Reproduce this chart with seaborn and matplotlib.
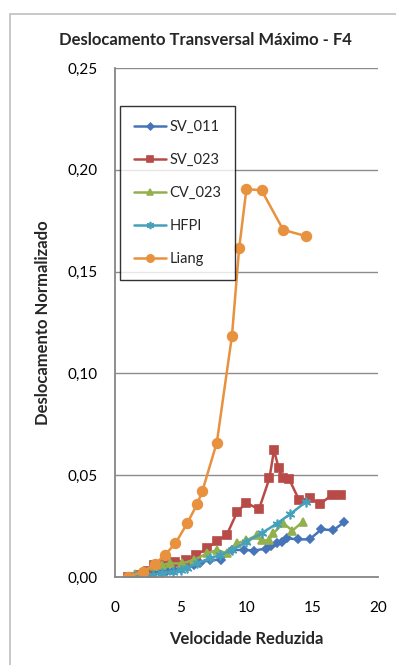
import pandas as pd
import matplotlib
matplotlib.use("Agg")
import matplotlib.pyplot as plt
import seaborn as sns
from matplotlib.ticker import FuncFormatter, MultipleLocator

# Data
series_names = ["SV_011", "SV_023", "CV_023", "HFPI", "Liang"]

sv011_x = [1.0, 1.5, 2.0, 2.5, 3.0, 3.5, 4.0, 4.5, 5.0, 5.5, 6.0, 6.5, 7.2, 8.1,
           8.9, 9.8, 10.6, 11.5, 11.9, 12.3, 12.7, 13.1, 13.9, 14.8, 15.7, 16.6, 17.4]
sv011_y = [0.0, 0.0005, 0.001, 0.0015, 0.002, 0.0025, 0.003, 0.0035, 0.004, 0.005,
           0.006, 0.007, 0.0083, 0.0085, 0.0133, 0.0133, 0.013, 0.014, 0.015, 0.0165,
           0.0173, 0.019, 0.0185, 0.0185, 0.0234, 0.023, 0.0268]

sv023_x = [1.0, 1.9, 2.5, 3.0, 3.8, 4.6, 5.4, 6.2, 7.0, 7.8, 8.5, 9.3, 10.0, 10.95,
           11.75, 12.1, 12.45, 12.75, 13.25, 14.0, 14.8, 15.6, 16.5, 17.2]
sv023_y = [0.0, 0.001, 0.003, 0.006, 0.0067, 0.0072, 0.0083, 0.0108, 0.0141, 0.0178,
           0.0206, 0.032, 0.0365, 0.0332, 0.0485, 0.0624, 0.0534, 0.0485, 0.0481,
           0.0378, 0.0386, 0.0359, 0.0403, 0.0403]

cv023_x = [1.0, 1.5, 2.15, 3.0, 3.6, 4.2, 5.1, 6.0, 7.0, 7.8, 8.5, 9.25, 10.0, 10.8,
           11.15, 11.7, 12.05, 12.8, 13.5, 14.3]
cv023_y = [0.0, 0.0015, 0.003, 0.0055, 0.006, 0.0067, 0.0067, 0.0083, 0.0116, 0.0133,
           0.0116, 0.0165, 0.018, 0.0206, 0.018, 0.018, 0.0215, 0.0264, 0.0228, 0.0272]

hfpi_x = [1.0, 1.5, 2.0, 2.9, 3.6, 4.4, 5.0, 5.45, 6.25, 7.2, 8.0, 8.9, 10.0, 11.15,
          12.3, 13.35, 14.5]
hfpi_y = [0.0, 0.0003, 0.0006, 0.001, 0.0018, 0.0026, 0.0035, 0.0043, 0.0067, 0.0092,
          0.0108, 0.0133, 0.0173, 0.0215, 0.0262, 0.031, 0.0368]

liang_x = [1.0, 2.15, 3.05, 3.8, 4.6, 5.5, 6.25, 6.65, 7.75, 8.9, 9.45, 10.0, 11.15,
           12.8, 14.5]
liang_y = [0.0, 0.0026, 0.0064, 0.0108, 0.0165, 0.0264, 0.0357, 0.0422, 0.066, 0.1184,
           0.1616, 0.1905, 0.190, 0.1705, 0.1675]

xs = [sv011_x, sv023_x, cv023_x, hfpi_x, liang_x]
ys = [sv011_y, sv023_y, cv023_y, hfpi_y, liang_y]

frames = []
for name, x, y in zip(series_names, xs, ys):
    frames.append(pd.DataFrame({"Velocidade Reduzida": x, "Deslocamento": y, "Serie": name}))
df = pd.concat(frames, ignore_index=True)

colors = {"SV_011": "#4674B8", "SV_023": "#B84A47", "CV_023": "#93B04F",
          "HFPI": "#45A0BB", "Liang": "#E8913F"}
markers = {"SV_011": "D", "SV_023": "s", "CV_023": "^", "HFPI": "X", "Liang": "o"}
msizes = {"SV_011": 4.5, "SV_023": 6, "CV_023": 6, "HFPI": 7, "Liang": 7}

sns.set_theme(style="white")
plt.rcParams['font.family'] = ['Lato', 'DejaVu Sans']

fig = plt.figure(figsize=(3.96, 6.65), dpi=100)
ax = fig.add_axes([0.290, 0.1323, 0.6645, 0.7654])

sns.lineplot(data=df, x="Velocidade Reduzida", y="Deslocamento", hue="Serie",
             style="Serie", markers=markers, dashes=False, palette=colors,
             hue_order=series_names, style_order=series_names,
             estimator=None, sort=False, linewidth=1.8,
             ax=ax, legend=False)

for line, name in zip(ax.get_lines(), series_names):
    if name == "HFPI":
        line.set_marker((6, 2, 0))  # asterisk like the spreadsheet marker
    line.set_markersize(msizes[name])
    line.set_markeredgecolor(colors[name])
    line.set_markeredgewidth(1.2)
    line.set_label(name)

ax.set_xlim(0, 20)
ax.set_ylim(0, 0.25)
ax.xaxis.set_major_locator(MultipleLocator(5))
ax.yaxis.set_major_locator(MultipleLocator(0.05))
ax.yaxis.set_major_formatter(FuncFormatter(lambda v, p: f"{v:.2f}".replace(".", ",")))
ax.grid(axis="y", color="#8c8c8c", linewidth=1.0)
ax.set_axisbelow(True)
for s in ["top", "right"]:
    ax.spines[s].set_visible(False)
for s in ["left", "bottom"]:
    ax.spines[s].set_color("#868686")
    ax.spines[s].set_linewidth(1.3)
ax.tick_params(axis="both", length=0, labelsize=11, colors="black")
ax.tick_params(axis="x", pad=17)
ax.tick_params(axis="y", pad=12.5)

ax.set_xlabel("Velocidade Reduzida", fontsize=12, fontweight="bold", labelpad=12)
ax.set_ylabel("Deslocamento Normalizado", fontsize=12, fontweight="bold", labelpad=12)
fig.text(0.52, 1 - 40 / 665, "Deslocamento Transversal Máximo - F4", ha="center",
         va="center", fontsize=12, fontweight="bold")

leg = ax.legend(loc="upper left", bbox_to_anchor=(0.019, 0.925), borderaxespad=0,
                frameon=True, fancybox=False, edgecolor="black", fontsize=10.5,
                labelspacing=1.3, handlelength=2.2, borderpad=0.95,
                handletextpad=0.25, markerscale=0.75)
leg.get_frame().set_linewidth(1.0)

# outer chart border
border = plt.Rectangle((10 / 396, -0.05), 1.2, 1 - 14 / 665 + 0.05, transform=fig.transFigure,
                       fill=False, edgecolor="#bfbfbf", linewidth=1.2)
fig.patches.append(border)

fig.savefig("out.png", dpi=100)
